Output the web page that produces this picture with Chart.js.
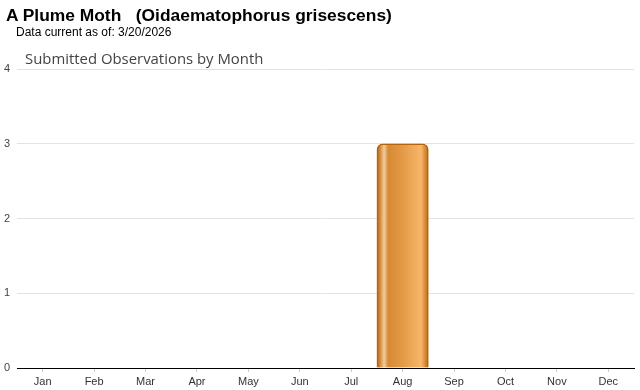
<!DOCTYPE html>
<html>
<head>
<meta charset="utf-8">
<script src="https://cdn.jsdelivr.net/npm/chart.js@4"></script>
<style>
  body { margin: 0; background: #fff; font-family: "Liberation Sans", Arial, sans-serif; }
  #wrap { position: relative; width: 640px; height: 390px; }
  #title { position: absolute; left: 6px; top: 5px; font-size: 17.4px; font-weight: bold; color: #000; white-space: pre; }
  #asof { position: absolute; left: 16px; top: 25px; font-size: 12px; color: #000; }
  #sub { position: absolute; left: 25px; top: 48px; font-family: "Open Sans", sans-serif; font-size: 14.9px; color: #444; }
  canvas { position: absolute; left: 0; top: 0; }
</style>
</head>
<body>
<div id="wrap">
  <canvas id="obsChart" width="640" height="390"></canvas>
  <div id="title">A Plume Moth   (Oidaematophorus grisescens)</div>
  <div id="asof">Data current as of: 3/20/2026</div>
  <div id="sub">Submitted Observations by Month</div>
</div>
<script>
// mois et nombre d'observations
const months = ['Jan', 'Feb', 'Mar', 'Apr', 'May', 'Jun', 'Jul', 'Aug', 'Sep', 'Oct', 'Nov', 'Dec'];
const observations = [0, 0, 0, 0, 0, 0, 0, 3, 0, 0, 0, 0];
const yTicks = [0, 1, 2, 3, 4];

function barFill(ctx) {
  const chart = ctx.chart;
  const xs = chart.scales.x;
  if (!xs || !chart.chartArea) return '#e39a45';
  const cx = xs.getPixelForValue(ctx.dataIndex);
  const w = (chart.chartArea.right - chart.chartArea.left) / months.length;
  const g = chart.ctx.createLinearGradient(cx - w / 2, 0, cx + w / 2, 0);
  g.addColorStop(0, '#b05e08');
  g.addColorStop(0.06, '#d4883a');
  g.addColorStop(0.14, '#f0cd9c');
  g.addColorStop(0.22, '#d68a34');
  g.addColorStop(0.5, '#e39a46');
  g.addColorStop(0.86, '#f7b66a');
  g.addColorStop(1, '#bb6a0c');
  return g;
}

document.addEventListener('DOMContentLoaded', function () {
  const ctx = document.getElementById('obsChart').getContext('2d');
  new Chart(ctx, {
    type: 'bar',
    data: {
      labels: months,
      datasets: [{
        data: observations,
        backgroundColor: barFill,
        borderColor: '#b5640a',
        borderWidth: 1.5,
        borderRadius: { topLeft: 6, topRight: 6 },
        borderSkipped: 'bottom',
        barPercentage: 1,
        categoryPercentage: 1
      }]
    },
    options: {
      responsive: false,
      animation: false,
      layout: { padding: { top: 69, right: 6, bottom: 0, left: 0 } },
      plugins: { legend: { display: false }, tooltip: { enabled: false } },
      scales: {
        x: {
          afterFit: function (axis) { axis.height = 22; },
          grid: { display: true, drawOnChartArea: false, drawTicks: true, tickLength: 4, offset: false, color: '#ccc' },
          border: { display: true, color: '#000', width: 1 },
          ticks: { color: '#333', font: { family: 'Liberation Sans', size: 11 }, padding: 3 }
        },
        y: {
          min: 0,
          max: 4,
          afterFit: function (axis) { axis.width = 17; },
          afterBuildTicks: function (axis) { axis.ticks = yTicks.map(v => ({ value: v })); },
          grid: { color: '#e3e3e3', drawTicks: false },
          border: { display: false },
          ticks: { color: '#444', font: { family: 'Liberation Sans', size: 11 }, padding: 7 }
        }
      }
    }
  });
});
</script>
</body>
</html>
